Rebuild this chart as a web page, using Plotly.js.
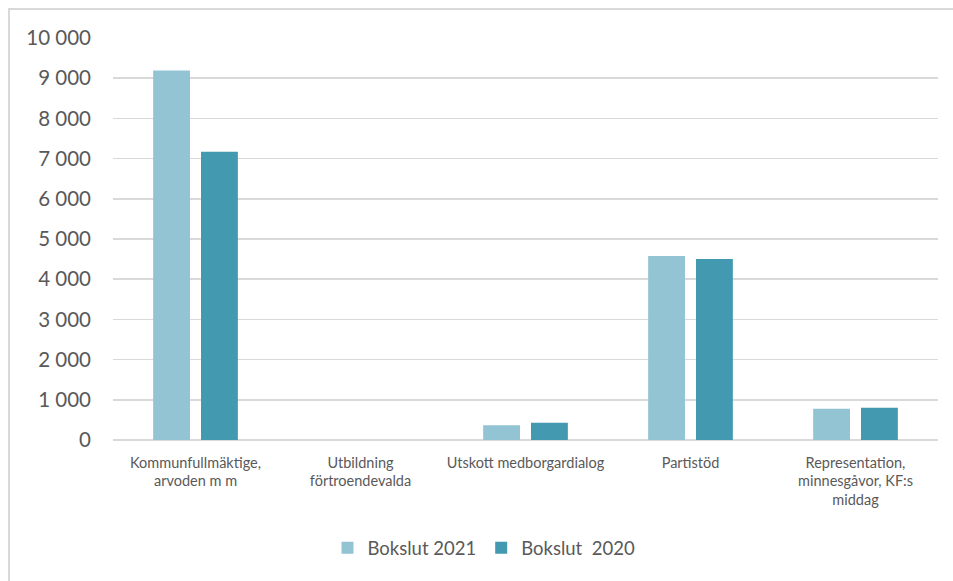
<!DOCTYPE html>
<html>
<head>
<meta charset="utf-8">
<script src="https://cdn.plot.ly/plotly-3.0.1.min.js"></script>
<style>
  html, body { margin: 0; padding: 0; background: #fff; }
  #wrap { position: relative; width: 953px; height: 581px; overflow: hidden; }
  #frame { position: absolute; left: 8px; top: 8px; width: 1000px; height: 1000px; border: 2px solid #d9d9d9; box-sizing: border-box; }
  #chart { position: absolute; left: 0; top: 0; width: 953px; height: 581px; }
</style>
</head>
<body>
<div id="wrap">
  <div id="frame"></div>
  <div id="chart"></div>
</div>
<script>
const categories = [
  "Kommunfullmäktige,<br>arvoden m m",
  "Utbildning<br>förtroendevalda",
  "Utskott medborgardialog",
  "Partistöd",
  "Representation,<br>minnesgåvor, KF:s<br>middag"
];
const seriesNames = ["Bokslut 2021", "Bokslut  2020"];
const bokslut2021 = [9190, 0, 370, 4580, 780];
const bokslut2020 = [7170, 0, 430, 4500, 805];
const yTickVals = [0, 1000, 2000, 3000, 4000, 5000, 6000, 7000, 8000, 9000, 10000];

const colors = ["#93C4D4", "#4299B0"];
const fontFam = "Lato, 'Open Sans', 'Liberation Sans', sans-serif";

const traces = [bokslut2021, bokslut2020].map((vals, i) => ({
  type: "bar",
  name: seriesNames[i],
  x: categories,
  y: vals,
  marker: { color: colors[i], line: { width: 0 } },
  hoverinfo: "x+y"
}));

const layout = {
  width: 953,
  height: 581,
  paper_bgcolor: "rgba(0,0,0,0)",
  plot_bgcolor: "rgba(0,0,0,0)",
  margin: { l: 113, r: 15, t: 38, b: 141 },
  separators: ", ",
  barmode: "group",
  bargap: 0.42,
  bargroupgap: 0.23,
  font: { family: fontFam, color: "#595959" },
  xaxis: {
    type: "category",
    showgrid: false,
    showline: false,
    ticks: "",
    ticklabelstandoff: 12,
    tickfont: { size: 14.5, color: "#595959", family: fontFam },
    tickangle: 0,
    fixedrange: true
  },
  yaxis: {
    range: [0, 10000],
    tickvals: yTickVals,
    tickformat: ",d",
    showgrid: true,
    gridcolor: "#D9D9D9",
    gridwidth: 1.5,
    zeroline: true,
    zerolinecolor: "#D9D9D9",
    zerolinewidth: 1.5,
    showline: false,
    ticks: "",
    ticklabelstandoff: 21,
    tickfont: { size: 20.5, color: "#595959", family: fontFam },
    fixedrange: true
  },
  showlegend: true,
  legend: {
    orientation: "h",
    x: 0.26,
    xanchor: "left",
    y: -0.269,
    yanchor: "middle",
    font: { size: 18.5, color: "#595959", family: fontFam },
    itemwidth: 30,
    tracegroupgap: 0
  }
};

Plotly.newPlot("chart", traces, layout, { displayModeBar: false, staticPlot: true });
</script>
</body>
</html>
